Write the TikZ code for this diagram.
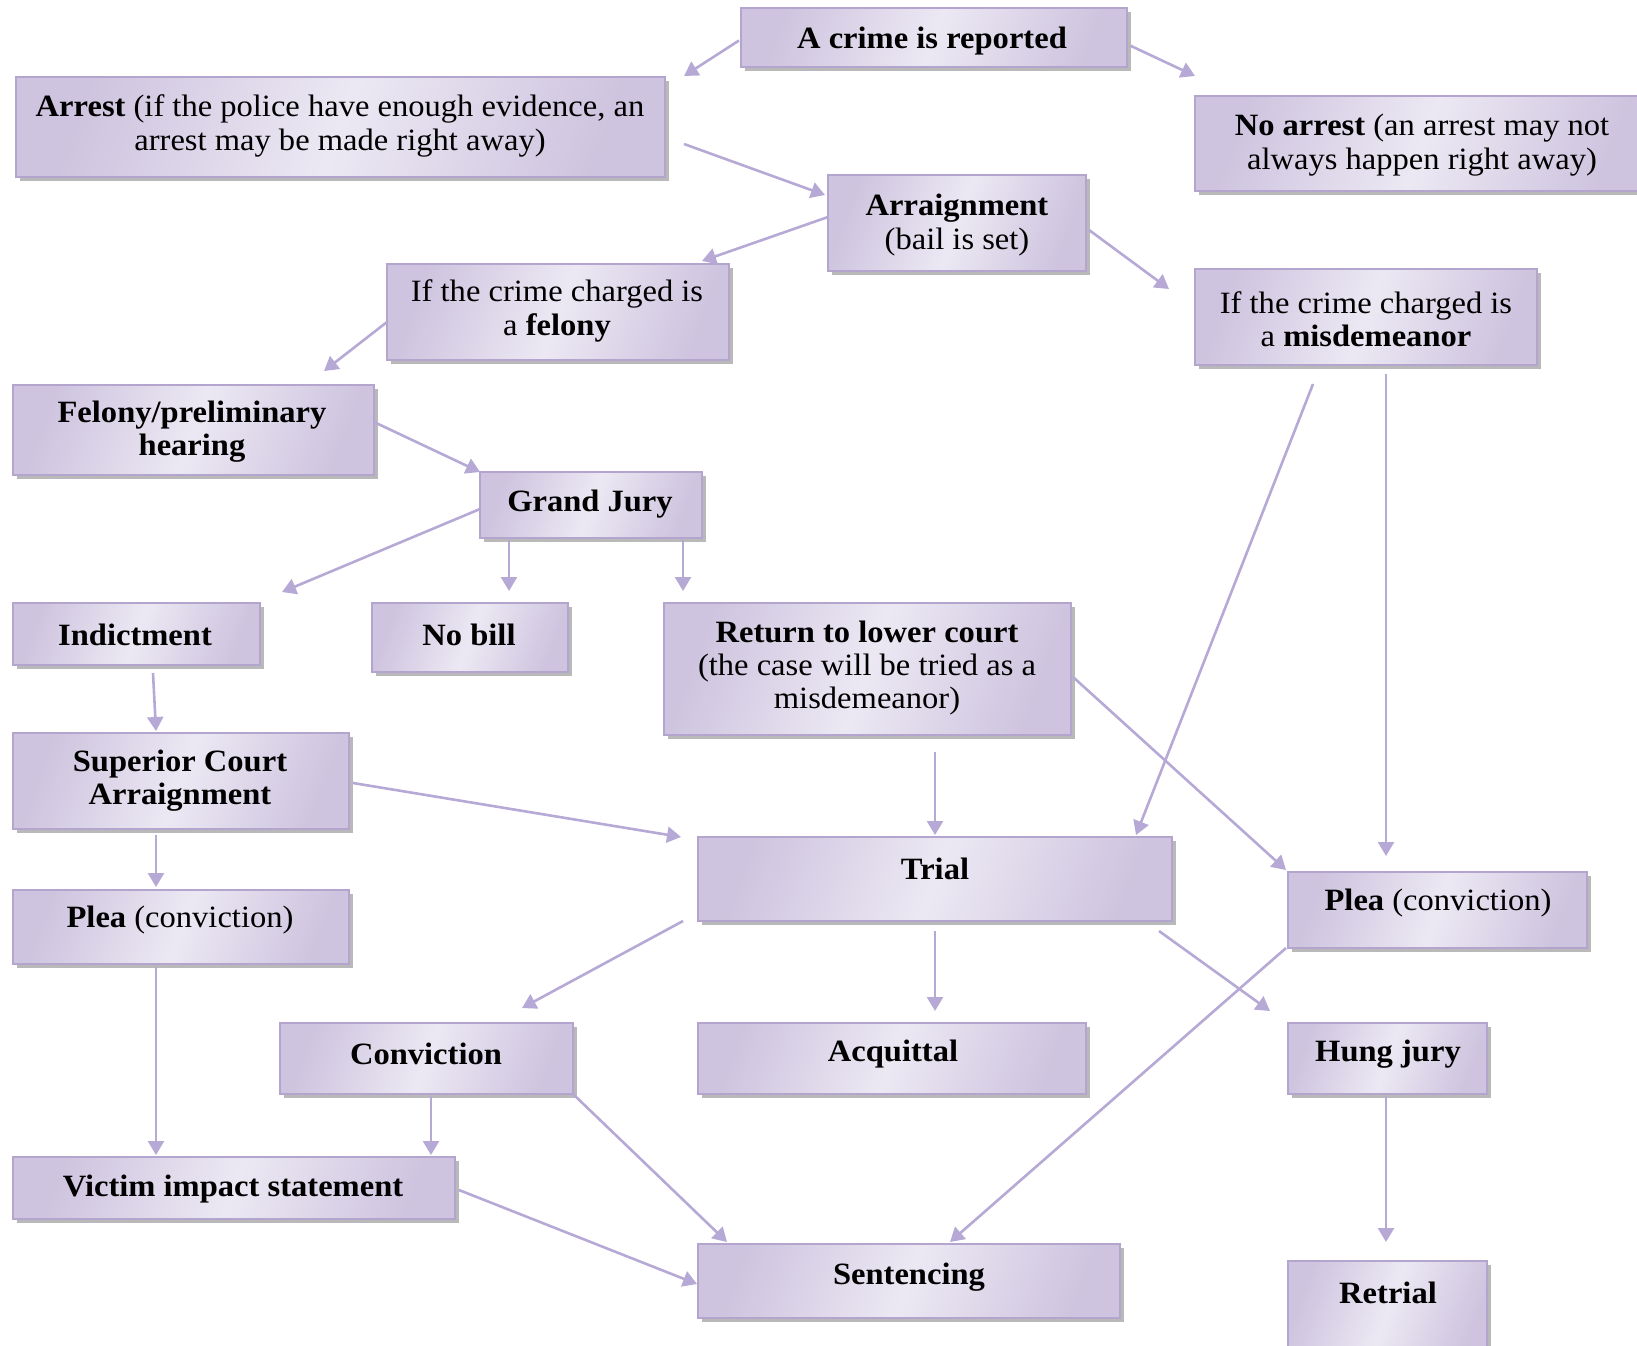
\documentclass[tikz,border=0pt]{standalone}
\usepackage{fontspec}
\setmainfont{Liberation Serif}[FakeStretch=1.05]
\usetikzlibrary{arrows.meta,shadows,calc}
\definecolor{bdr}{HTML}{B4A5CF}
\definecolor{bdark}{HTML}{CEC4DF}
\definecolor{blight}{HTML}{ECE8F3}
\definecolor{arrc}{HTML}{B6A9D6}
\newcommand{\boxnode}[5]{\node[box,minimum width={(#4-#2)*0.5pt},minimum height={(#5-#3)*0.5pt}] (#1) at ({(#2+#4)/2},{(#3+#5)/2}) {};}
\begin{document}
\begin{tikzpicture}[x=0.5pt,y=-0.5pt,
  box/.style={draw=bdr,line width=1.1pt,rectangle,inner sep=0pt,outer sep=0pt,
    left color=bdark,right color=bdark,middle color=blight,shading angle=70,
    drop shadow={shadow xshift=2pt,shadow yshift=-2.2pt,fill=black!50,opacity=0.55}},
  txt/.style={align=center,inner sep=0pt,font=\fontsize{15.5}{16.6}\selectfont},
  arr/.style={draw=arrc,line width=1.3pt,-{Triangle[length=7pt,width=8pt]}}]
\useasboundingbox (0,0) rectangle (1637,1345);
% boxes
\boxnode{crime}{741}{8}{1127}{67}
\boxnode{arrest}{16}{77}{665}{177}
\boxnode{noarrest}{1195}{96}{1650}{191}
\boxnode{arraign}{828}{175}{1086}{271}
\boxnode{felony}{387}{264}{729}{360}
\boxnode{misd}{1195}{269}{1537}{365}
\boxnode{hearing}{13}{385}{374}{475}
\boxnode{gj}{480}{472}{702}{538}
\boxnode{indict}{13}{603}{260}{665}
\boxnode{nobill}{372}{603}{568}{672}
\boxnode{ret}{664}{603}{1071}{735}
\boxnode{sup}{13}{733}{349}{829}
\boxnode{trial}{698}{837}{1172}{921}
\boxnode{pleaL}{13}{890}{349}{964}
\boxnode{pleaR}{1288}{872}{1587}{948}
\boxnode{conv}{280}{1023}{573}{1094}
\boxnode{acq}{698}{1023}{1086}{1094}
\boxnode{hung}{1288}{1023}{1487}{1094}
\boxnode{victim}{13}{1157}{455}{1219}
\boxnode{sent}{698}{1244}{1120}{1318}
\boxnode{retrial}{1288}{1261}{1487}{1360}
% texts
\node[txt] (crime-t) at (932,41) {\textbf{A crime is reported}};
\node[txt] (arrest-t) at (340,126) {\textbf{Arrest} (if the police have enough evidence, an\\arrest may be made right away)};
\node[txt] (noarrest-t) at (1422,145) {\textbf{No arrest} (an arrest may not\\always happen right away)};
\node[txt] (arraign-t) at (957,225) {\textbf{Arraignment}\\(bail is set)};
\node[txt] (felony-t) at (557,311) {If the crime charged is\\a \textbf{felony}};
\node[txt] (misd-t) at (1366,319) {If the crime charged is\\a \textbf{misdemeanor}};
\node[txt] (hearing-t) at (192,432) {\textbf{Felony/preliminary}\\\textbf{hearing}};
\node[txt] (gj-t) at (590,504) {\textbf{Grand Jury}};
\node[txt] (indict-t) at (135,635) {\textbf{Indictment}};
\node[txt] (nobill-t) at (469,635) {\textbf{No bill}};
\node[txt] (ret-t) at (867,668) {\textbf{Return to lower court}\\(the case will be tried as a\\misdemeanor)};
\node[txt] (sup-t) at (180,781) {\textbf{Superior Court}\\\textbf{Arraignment}};
\node[txt] (trial-t) at (935,869) {\textbf{Trial}};
\node[txt] (pleaL-t) at (180,920) {\textbf{Plea} (conviction)};
\node[txt] (pleaR-t) at (1438,903) {\textbf{Plea} (conviction)};
\node[txt] (conv-t) at (426,1054) {\textbf{Conviction}};
\node[txt] (acq-t) at (893,1054) {\textbf{Acquittal}};
\node[txt] (hung-t) at (1388,1054) {\textbf{Hung jury}};
\node[txt] (victim-t) at (233,1189) {\textbf{Victim impact statement}};
\node[txt] (sent-t) at (909,1277) {\textbf{Sentencing}};
\node[txt] (retrial-t) at (1388,1293) {\textbf{Retrial}};
% connectors
\draw[arr] ($(crime.west)+(-2,3)$) -- ($(arrest.north east)+(19,-1)$);
\draw[arr] ($(crime.east)+(3,8)$) -- ($(noarrest.north west)+(0,-20)$);
\draw[arr] ($(arrest.east)+(19,17)$) -- ($(arraign.west)+(-3,-28)$);
\draw[arr] ($(arraign.west)+(0,-6)$) -- ($(felony.north east)+(-27,-3)$);
\draw[arr] ($(arraign.east)+(3,7)$) -- ($(misd.north west)+(-26,20)$);
\draw[arr] ($(felony.west)+(0,10)$) -- ($(hearing.north east)+(-50,-14)$);
\draw[arr] ($(hearing.east)+(0,-8)$) -- (gj.north west);
\draw[arr] ($(gj.west)+(0,4)$) -- ($(indict.north east)+(22,-11)$);
\draw[arr] ($(gj.south west)+(29,0)$) -- ($(nobill.north west)+(137,-12)$);
\draw[arr] ($(gj.south east)+(-19,0)$) -- ($(ret.north west)+(19,-12)$);
\draw[arr] ($(indict.south west)+(140,8)$) -- ($(sup.north west)+(143,-2)$);
\draw[arr] ($(sup.east)+(4,2)$) -- ($(trial.north west)+(-17,0)$);
\draw[arr] ($(sup.south west)+(143,6)$) -- ($(pleaL.north west)+(143,-3)$);
\draw[arr] ($(ret.south)+(67.5,17)$) -- ($(trial.north)+(0,-2)$);
\draw[arr] ($(ret.east)+(2,8)$) -- ($(pleaR.north west)+(-2,-2)$);
\draw[arr] ($(misd.south west)+(118,19)$) -- ($(trial.north east)+(-36,-2)$);
\draw[arr] ($(misd.south)+(20,9)$) -- ($(pleaR.north west)+(98,-16)$);
\draw[arr] ($(trial.south west)+(-15,0)$) -- ($(conv.north)+(95.5,-15)$);
\draw[arr] ($(trial.south)+(0,10)$) -- ($(acq.north)+(43,-12)$);
\draw[arr] ($(trial.south east)+(-13,10)$) -- ($(hung.north west)+(-18,-12)$);
\draw[arr] ($(pleaR.south west)+(-2,0)$) -- ($(sent.north)+(41,-2)$);
\draw[arr] ($(pleaL.south west)+(143,3)$) -- ($(victim.north west)+(143,-2)$);
\draw[arr] ($(conv.south)+(4.5,2)$) -- ($(victim.north east)+(-24,-2)$);
\draw[arr] (conv.south east) -- ($(sent.north west)+(29,-2)$);
\draw[arr] ($(victim.east)+(4,2)$) -- ($(sent.west)+(-1,3)$);
\draw[arr] ($(hung.south)+(-1.5,2)$) -- ($(retrial.north)+(-1.5,-19)$);
\end{tikzpicture}
\end{document}
